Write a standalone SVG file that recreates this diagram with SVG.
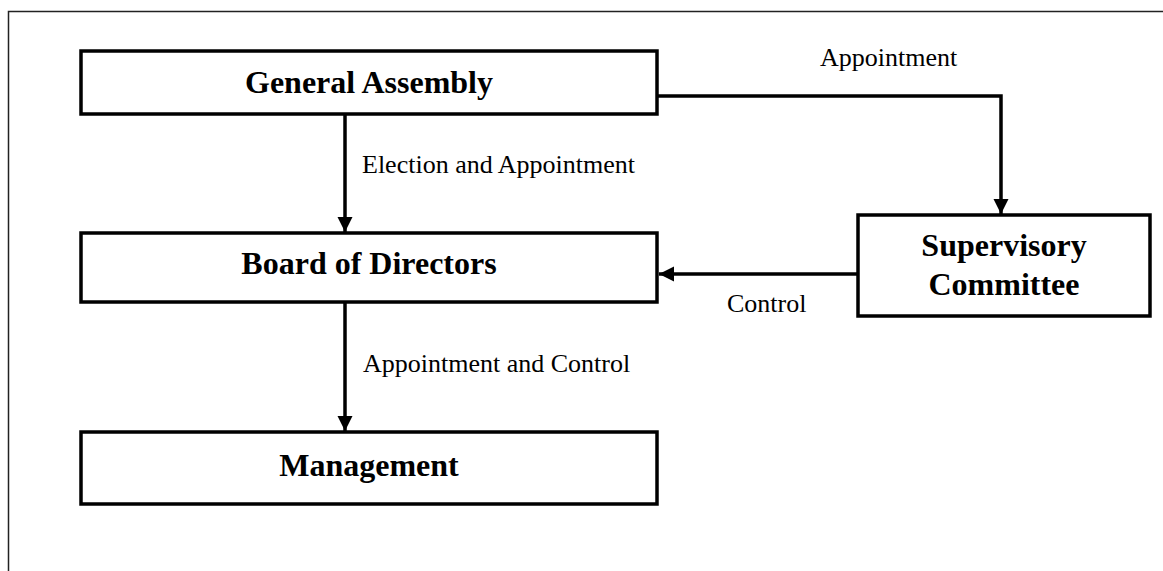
<svg xmlns="http://www.w3.org/2000/svg" width="1163" height="571" viewBox="0 0 1163 571">
<style>
.box{fill:#fff;stroke:#000;stroke-width:3.5}
.t{font-family:"Liberation Serif","Times New Roman",serif;font-weight:bold;font-size:32px;fill:#000;text-anchor:middle}
.l{font-family:"Liberation Serif","Times New Roman",serif;font-size:26px;fill:#000}
.c{fill:none;stroke:#000;stroke-width:3.5}
</style>
<defs>
<marker id="ah" viewBox="0 0 10 10" refX="10" refY="5" markerWidth="4.3" markerHeight="4.3" orient="auto" markerUnits="strokeWidth">
<path d="M0,0 L10,5 L0,10 z" fill="#000"/>
</marker>
</defs>
<rect width="1163" height="571" fill="#fff"/>
<path d="M8.5,571 V11.5 H1163" fill="none" stroke="#222" stroke-width="1.5"/>
<g id="connectors">
<path class="c" d="M345,114 V232" marker-end="url(#ah)"/>
<path class="c" d="M657,96 H1001 V214" marker-end="url(#ah)"/>
<path class="c" d="M858,274 H659" marker-end="url(#ah)"/>
<path class="c" d="M345,302 V431" marker-end="url(#ah)"/>
<text class="l" x="820" y="66">Appointment</text>
<text class="l" x="362" y="173">Election and Appointment</text>
<text class="l" x="727" y="312">Control</text>
<text class="l" x="363" y="372">Appointment and Control</text>
</g>
<g id="general-assembly">
<rect class="box" x="81" y="51" width="576" height="63"/>
<text class="t" x="369" y="93">General Assembly</text>
</g>
<g id="board-of-directors">
<rect class="box" x="81" y="233" width="576" height="69"/>
<text class="t" x="369" y="274">Board of Directors</text>
</g>
<g id="supervisory-committee">
<rect class="box" x="858" y="215" width="292" height="101"/>
<text class="t" x="1004" y="256">Supervisory</text>
<text class="t" x="1004" y="295">Committee</text>
</g>
<g id="management">
<rect class="box" x="81" y="432" width="576" height="72"/>
<text class="t" x="369" y="476">Management</text>
</g>
</svg>
